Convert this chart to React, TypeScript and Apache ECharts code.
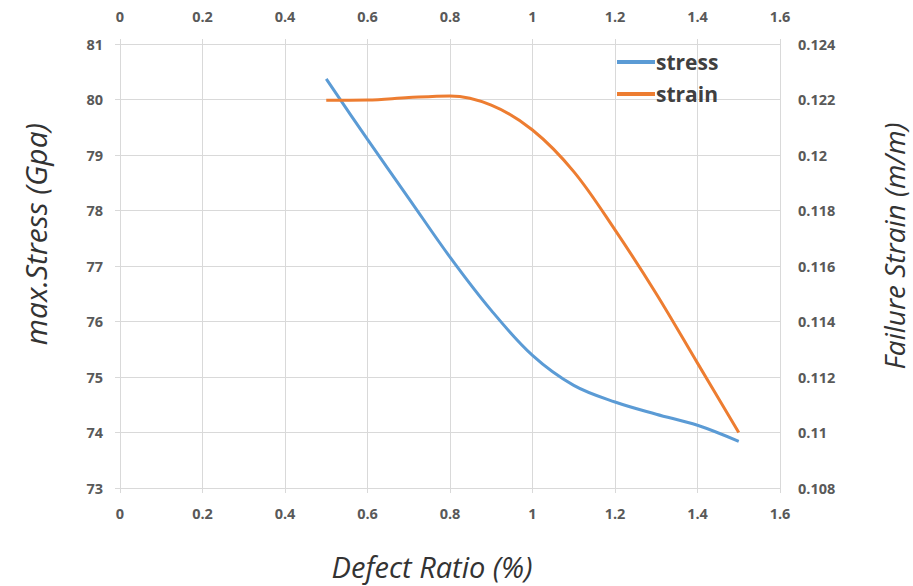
import React, { useEffect, useRef } from "react";
import * as echarts from "echarts";

const defectRatio = [0.5, 0.6, 0.7, 0.8, 0.9, 1.0, 1.1, 1.2, 1.3, 1.4, 1.5];
const stressValues = [80.37, 79.28, 78.22, 77.16, 76.2, 75.39, 74.85, 74.55, 74.33, 74.13, 73.84];
const strainValues = [0.12197, 0.12198, 0.12207, 0.12213, 0.1218, 0.1209, 0.1194, 0.1173, 0.1150, 0.1125, 0.1100];
const seriesNames = ["stress", "strain"];
const xTitle = "Defect Ratio (%)";
const leftTitle = "max.Stress (Gpa)";
const rightTitle = "Failure Strain (m/m)";

const FONT = "'Open Sans', 'DejaVu Sans', sans-serif";
const GRID = "#d9d9d9";
const LABEL = "#595959";

export default function App() {
  const ref = useRef<HTMLDivElement>(null);
  useEffect(() => {
    if (!ref.current) return;
    const chart = echarts.init(ref.current, undefined, { renderer: "svg" });
    const axisLabel = { color: LABEL, fontFamily: FONT, fontWeight: "bold" as const, fontSize: 14.5 };
    const xCommon = {
      type: "value" as const,
      min: 0,
      max: 1.6,
      interval: 0.2,
      axisLine: { show: true, lineStyle: { color: GRID, width: 1 } },
      axisTick: { show: true, length: 5, lineStyle: { color: GRID } },
      splitLine: { show: true, lineStyle: { color: GRID, width: 1 } },
    };
    chart.setOption({
      animation: false,
      backgroundColor: "#ffffff",
      grid: { left: 120, right: 133, top: 44, bottom: 98, containLabel: false },
      legend: {
        orient: "vertical",
        left: 612,
        top: 46,
        itemWidth: 38,
        itemHeight: 4,
        itemGap: 10,
        icon: "rect",
        data: seriesNames,
        textStyle: {
          color: "#404040",
          fontFamily: FONT,
          fontWeight: "bold",
          fontSize: 21,
          lineHeight: 22,
          padding: [0, 0, 0, -4],
        },
      },
      xAxis: [
        { ...xCommon, position: "bottom", axisLabel: { ...axisLabel, margin: 18 } },
        { ...xCommon, position: "top", axisLabel: { ...axisLabel, margin: 20 } },
      ],
      yAxis: [
        {
          type: "value",
          position: "left",
          min: 73,
          max: 81,
          interval: 1,
          axisLine: { show: true, lineStyle: { color: GRID } },
          axisTick: { show: true, length: 5, lineStyle: { color: GRID } },
          splitLine: { show: true, lineStyle: { color: GRID } },
          axisLabel: { ...axisLabel, margin: 17 },
        },
        {
          type: "value",
          position: "right",
          min: 0.108,
          max: 0.124,
          interval: 0.002,
          axisLine: { show: true, lineStyle: { color: GRID } },
          axisTick: { show: false },
          splitLine: { show: false },
          axisLabel: { ...axisLabel, margin: 18, formatter: (v: number) => String(+v.toFixed(3)) },
        },
      ],
      graphic: [
        {
          type: "text",
          x: 432,
          y: 566,
          style: { text: xTitle, fill: "#333333", font: `italic 29px ${FONT}`, align: "center", verticalAlign: "middle" },
        },
        {
          type: "text",
          x: 35,
          y: 234,
          rotation: Math.PI / 2,
          style: { text: leftTitle, fill: "#333333", font: `italic 30px ${FONT}`, align: "center", verticalAlign: "middle" },
        },
        {
          type: "text",
          x: 894,
          y: 246,
          rotation: Math.PI / 2,
          style: { text: rightTitle, fill: "#333333", font: `italic 28px ${FONT}`, align: "center", verticalAlign: "middle" },
        },
      ],
      series: [
        {
          name: seriesNames[0],
          type: "line",
          xAxisIndex: 0,
          yAxisIndex: 0,
          smooth: 0.35,
          showSymbol: false,
          symbol: "none",
          lineStyle: { color: "#5b9bd5", width: 3 },
          itemStyle: { color: "#5b9bd5" },
          data: defectRatio.map((x, i) => [x, stressValues[i]]),
        },
        {
          name: seriesNames[1],
          type: "line",
          xAxisIndex: 0,
          yAxisIndex: 1,
          smooth: 0.35,
          showSymbol: false,
          symbol: "none",
          lineStyle: { color: "#ed7d31", width: 3 },
          itemStyle: { color: "#ed7d31" },
          data: defectRatio.map((x, i) => [x, strainValues[i]]),
        },
      ],
    });
    return () => chart.dispose();
  }, []);
  return <div ref={ref} style={{ width: 913, height: 586, position: "absolute", left: 0, top: 0 }} />;
}
